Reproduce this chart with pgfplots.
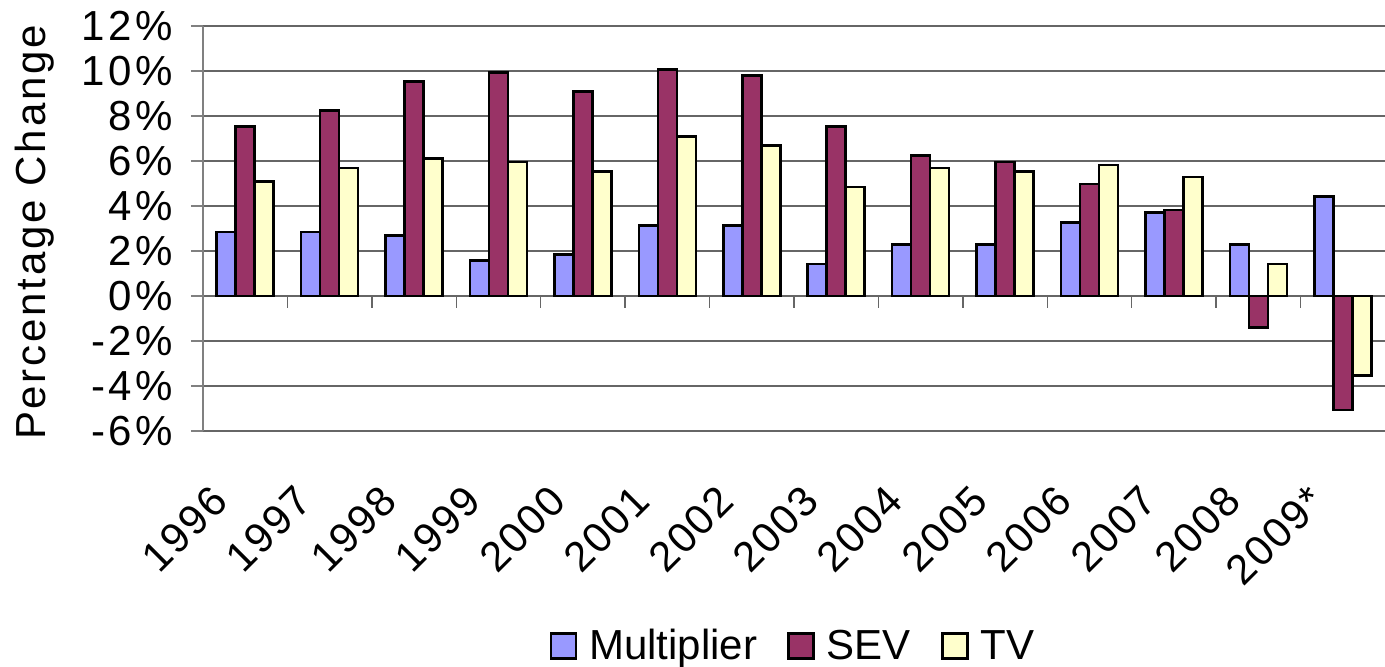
\documentclass[border=0pt]{standalone}
\usepackage{pgfplots}
\pgfplotsset{compat=1.18}
\usepackage{fontspec}
\setmainfont{Liberation Sans}
\definecolor{cM}{HTML}{9999FF}
\definecolor{cS}{HTML}{993366}
\definecolor{cT}{HTML}{FFFFCC}
\newcommand{\bigf}{\fontsize{21pt}{25pt}\selectfont}
\begin{document}
\begin{tikzpicture}
\useasboundingbox (-101.5pt,-118pt) rectangle (591pt,215.5pt);
\begin{axis}[
  scale only axis,
  width=591pt, height=202.5pt,
  xmin=-0.5, xmax=13.5,
  ymin=-6, ymax=12,
  ybar=0pt, bar width=9.5pt,
  axis y line*=left, axis x line*=bottom,
  x axis line style={draw=none},
  y axis line style={black!50, line width=0.7pt},
  xtick=data,
  xticklabels={1996,1997,1998,1999,2000,2001,2002,2003,2004,2005,2006,2007,2008,2009*},
  xtick style={draw=none},
  xticklabel style={font=\bigf\addfontfeatures{LetterSpace=5}, inner sep=0pt, xshift=-18pt, yshift=-20pt, rotate=45, anchor=north east},
  ytick={-6,-4,...,12},
  yticklabels={-6\%,-4\%,-2\%,0\%,2\%,4\%,6\%,8\%,10\%,12\%},
  yticklabel style={font=\bigf\addfontfeatures{LetterSpace=8}, inner sep=0pt, anchor=east, xshift=-9pt},
  ytick style={black!50, line width=0.7pt},
  tick align=outside,
  major tick length=6pt,
  ymajorgrids,
  grid style={black!60, line width=0.7pt},
  ylabel={\addfontfeatures{LetterSpace=6.5}Percentage Change},
  ylabel style={font=\bigf, at={(rel axis cs:-0.1421,0.49)}, anchor=center},
  legend columns=-1,
  legend style={at={(rel axis cs:0.5,-0.531)}, anchor=center, draw=none, fill=none,
    font=\bigf,
    /tikz/every even column/.append style={column sep=13pt},
    /tikz/every odd column/.append style={column sep=4pt}},
  legend image code/.code={\draw[#1, line width=1.3pt] (0pt,-6.25pt) rectangle (12.5pt,6.25pt);},
  every axis plot/.append style={draw=black, line width=1.3pt},
  clip=false,
]
\addplot[fill=cM] coordinates {(0,2.85) (1,2.85) (2,2.70) (3,1.58) (4,1.84) (5,3.12) (6,3.12) (7,1.43) (8,2.28) (9,2.28) (10,3.27) (11,3.70) (12,2.28) (13,4.42)};
\addplot[fill=cS] coordinates {(0,7.52) (1,8.24) (2,9.52) (3,9.94) (4,9.10) (5,10.07) (6,9.79) (7,7.52) (8,6.24) (9,5.96) (10,4.97) (11,3.82) (12,-1.40) (13,-5.07)};
\addplot[fill=cT] coordinates {(0,5.10) (1,5.69) (2,6.10) (3,5.96) (4,5.52) (5,7.10) (6,6.69) (7,4.84) (8,5.69) (9,5.54) (10,5.82) (11,5.28) (12,1.43) (13,-3.54)};
\legend{Multiplier,SEV,TV}
\pgfplotsinvokeforeach{0.5,1.5,...,12.5}{\draw[black!60, line width=0.7pt] (axis cs:#1,0) -- ([yshift=-6pt]axis cs:#1,0);}
\end{axis}
\end{tikzpicture}
\end{document}
